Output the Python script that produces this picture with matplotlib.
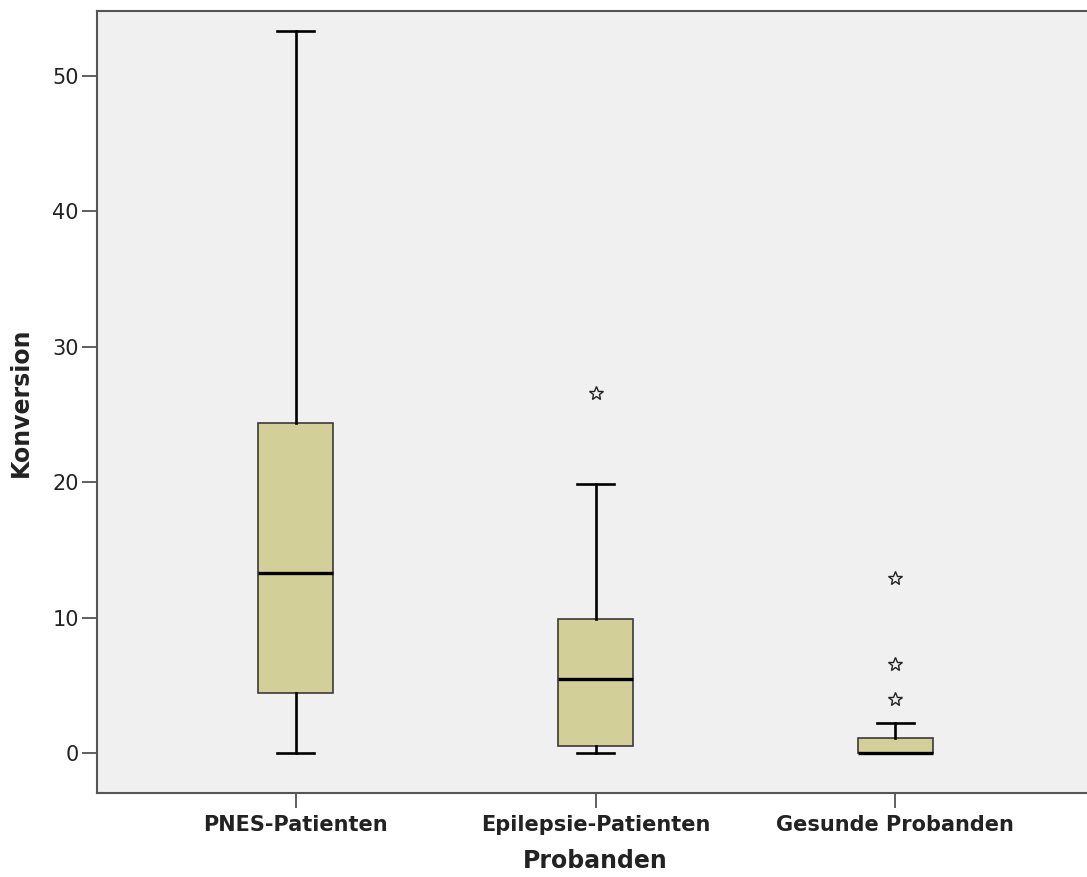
import matplotlib
matplotlib.use("Agg")
import matplotlib.pyplot as plt

categories = ["PNES-Patienten", "Epilepsie-Patienten", "Gesunde Probanden"]
whisker_low = [0.0, 0.0, 0.0]
q1 = [4.4, 0.5, 0.0]
median = [13.3, 5.5, 0.0]
q3 = [24.4, 9.9, 1.1]
whisker_high = [53.3, 19.9, 2.2]
outliers = [[], [26.6], [12.9, 6.6, 4.0]]
y_ticks = [0, 10, 20, 30, 40, 50]

fig = plt.figure(figsize=(10.87, 8.77), dpi=100)
ax = fig.add_axes([97 / 1087, 1 - 793 / 877, (1094 - 97) / 1087, (793 - 11) / 877])
ax.set_facecolor("#F0F0F0")

stats = []
for i, c in enumerate(categories):
    stats.append(dict(label=c, whislo=whisker_low[i], q1=q1[i], med=median[i],
                      q3=q3[i], whishi=whisker_high[i], fliers=outliers[i]))

pos = list(range(len(categories)))
ax.bxp(stats, positions=pos, widths=0.25, patch_artist=True, showfliers=True,
       boxprops=dict(facecolor="#D3CF98", edgecolor="#3a3a3a", linewidth=1.2),
       whiskerprops=dict(color="black", linewidth=1.9),
       capprops=dict(color="black", linewidth=1.9),
       medianprops=dict(color="black", linewidth=2.4),
       flierprops=dict(marker="*", markersize=10, markerfacecolor="none",
                       markeredgecolor="#222222", markeredgewidth=1.0, linestyle="none"),
       capwidths=0.125, zorder=3)

ax.set_xlim(-0.663, 2.663)
ax.set_ylim(-2.95, 54.8)
ax.set_yticks(y_ticks)
ax.set_yticklabels([str(v) for v in y_ticks], fontsize=15, color="#222222")
ax.set_xticks(pos)
ax.set_xticklabels(categories, fontsize=15, fontweight="bold", color="#222222")
ax.tick_params(axis="both", length=11, width=1.2, color="#444444")
ax.tick_params(axis="x", pad=5)
ax.tick_params(axis="y", pad=2)

for s in ["left", "bottom", "top"]:
    ax.spines[s].set_color("#555555")
    ax.spines[s].set_linewidth(1.5)
ax.spines["right"].set_visible(False)

ax.set_xlabel("Probanden", fontsize=17, fontweight="bold", color="#222222", labelpad=10)
ax.set_ylabel("Konversion", fontsize=17, fontweight="bold", color="#222222", labelpad=14)

fig.savefig("out.png", dpi=100)
